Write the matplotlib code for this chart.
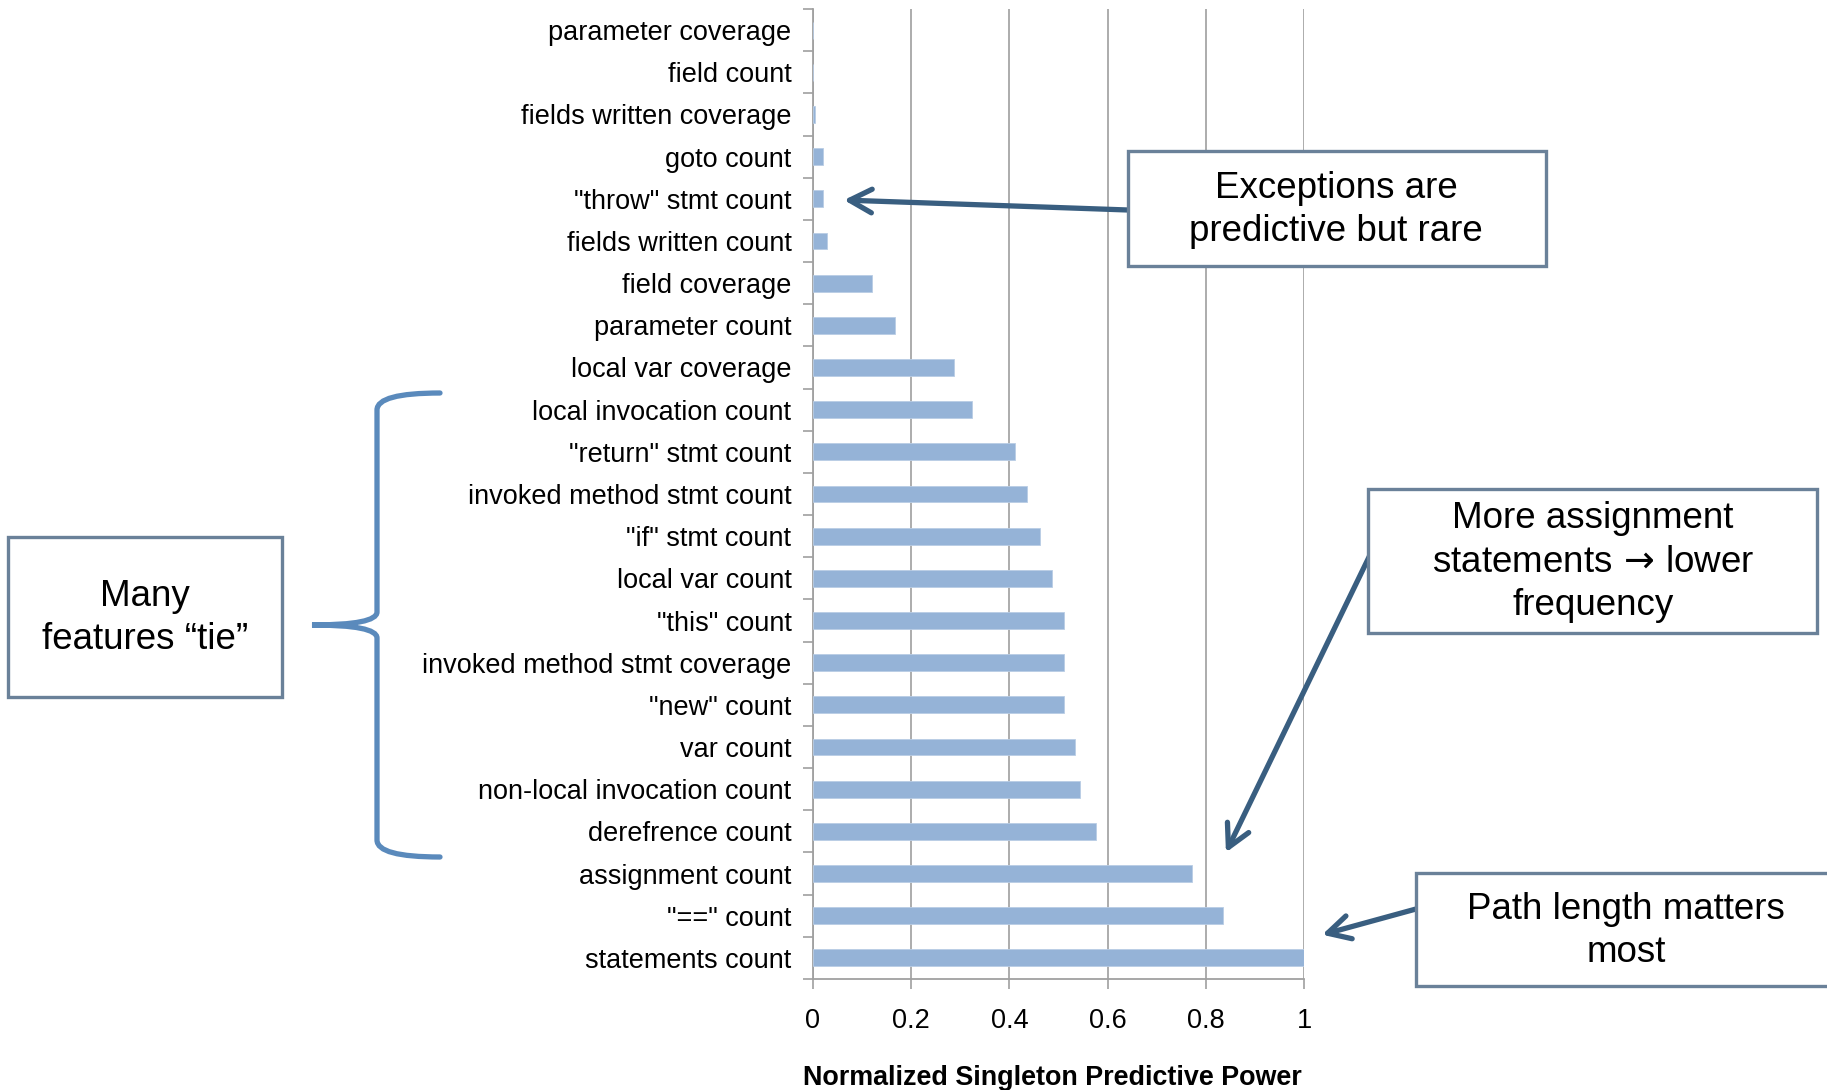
import numpy as np
import matplotlib.pyplot as plt
from matplotlib.patches import Rectangle, PathPatch
from matplotlib.path import Path

plt.rcParams['font.family'] = ['Liberation Sans', 'DejaVu Sans']

# Features listed top to bottom, with normalized singleton predictive power
features = ['parameter coverage', 'field count', 'fields written coverage', 'goto count',
            '"throw" stmt count', 'fields written count', 'field coverage', 'parameter count',
            'local var coverage', 'local invocation count', '"return" stmt count',
            'invoked method stmt count', '"if" stmt count', 'local var count', '"this" count',
            'invoked method stmt coverage', '"new" count', 'var count',
            'non-local invocation count', 'derefrence count', 'assignment count',
            '"==" count', 'statements count']
power = [0.0, 0.0, 0.004, 0.020, 0.020, 0.028, 0.121, 0.166,
         0.287, 0.323, 0.411, 0.435, 0.463, 0.487, 0.511,
         0.511, 0.511, 0.534, 0.544, 0.577, 0.772, 0.836, 1.0]
xticks = [0, 0.2, 0.4, 0.6, 0.8, 1]

W, H = 1827, 1090
fig = plt.figure(figsize=(W / 100, H / 100), dpi=100)
ax = fig.add_axes([813 / W, 1 - 979 / H, 491 / W, 970 / H])

ypos = np.arange(len(features))
ax.barh(ypos, power, height=0.4, color='#95b3d7', edgecolor='#b9cde5', linewidth=0.6, zorder=3)

ax.set_xlim(0, 1)
ax.set_ylim(len(features) - 0.5, -0.5)
ax.set_xticks(xticks)
ax.set_xticklabels(['0' if v == 0 else ('1' if v == 1 else f'{v:.1f}') for v in xticks], fontsize=19.5)
ax.set_yticks(ypos)
ax.set_yticklabels(features, fontsize=19.5)
ax.set_yticks(np.arange(len(features) + 1) - 0.5, minor=True)
ax.tick_params(axis='y', which='major', length=0, pad=15.5)
ax.tick_params(axis='y', which='minor', length=7, width=1.2, color='#a0a0a0')
ax.tick_params(axis='x', length=7, width=1.2, color='#a0a0a0', pad=14)
ax.grid(axis='x', color='#a6a6a6', linewidth=1.3, zorder=0)
for s in ['top', 'right']:
    ax.spines[s].set_visible(False)
for s in ['left', 'bottom']:
    ax.spines[s].set_color('#a0a0a0')
    ax.spines[s].set_linewidth(1.3)
ax.set_xlabel('Normalized Singleton Predictive Power', fontsize=19.4, fontweight='bold', labelpad=22)
ax.xaxis.label.set_x(0.488)


def px(x, y):
    # image pixel (top-left origin) -> figure fraction
    return x / W, 1 - y / H


def box(x0, y0, x1, y1, text, cx, cy, ls=1.33):
    fig.patches.append(Rectangle(px(x0, y1), (x1 - x0) / W, (y1 - y0) / H,
                                 transform=fig.transFigure, facecolor='white',
                                 edgecolor='#6a8199', linewidth=2.4, zorder=5))
    fig.text(*px(cx, cy), text, ha='center', va='center', fontsize=26.5,
             linespacing=ls, zorder=6)


box(1128, 151, 1546, 266, 'Exceptions are\npredictive but rare', 1336, 210)
box(8, 537, 282, 697, 'Many\nfeatures \u201ctie\u201d', 145, 618, ls=1.28)
box(1368, 489, 1817, 633, 'More assignment\nstatements $\\!\\rightarrow\\!$ lower\nfrequency', 1593, 562)
box(1416, 873, 1850, 986, 'Path length matters\nmost', 1626, 931)

arrow = dict(arrowstyle='->,head_length=1.6,head_width=0.85', color='#395e80', lw=3.8,
             shrinkA=0, shrinkB=0, capstyle='round', joinstyle='round')
ax.annotate('', xy=(0.063, 4.03), xycoords='data', xytext=(1128, H - 210),
            textcoords='figure pixels', arrowprops=arrow, annotation_clip=False)
ax.annotate('', xy=(0.841, 19.5), xycoords='data', xytext=(1370, H - 555),
            textcoords='figure pixels', arrowprops=arrow, annotation_clip=False)
ax.annotate('', xy=(1.037, 21.45), xycoords='data', xytext=(1416, H - 909),
            textcoords='figure pixels', arrowprops=arrow, annotation_clip=False)

# curly brace grouping the "tie" features
pts = [(440, 393), (377, 393), (377, 410),
       (377, 612),
       (377, 625), (312, 625),
       (377, 625), (377, 638),
       (377, 840),
       (377, 857), (440, 857)]
codes = [Path.MOVETO, Path.CURVE3, Path.CURVE3,
         Path.LINETO,
         Path.CURVE3, Path.CURVE3,
         Path.CURVE3, Path.CURVE3,
         Path.LINETO,
         Path.CURVE3, Path.CURVE3]
brace = Path([px(x, y) for x, y in pts], codes)
fig.patches.append(PathPatch(brace, transform=fig.transFigure, facecolor='none',
                             edgecolor='#5a8abc', linewidth=3.8, capstyle='round'))

fig.savefig('out.png', dpi=100)
